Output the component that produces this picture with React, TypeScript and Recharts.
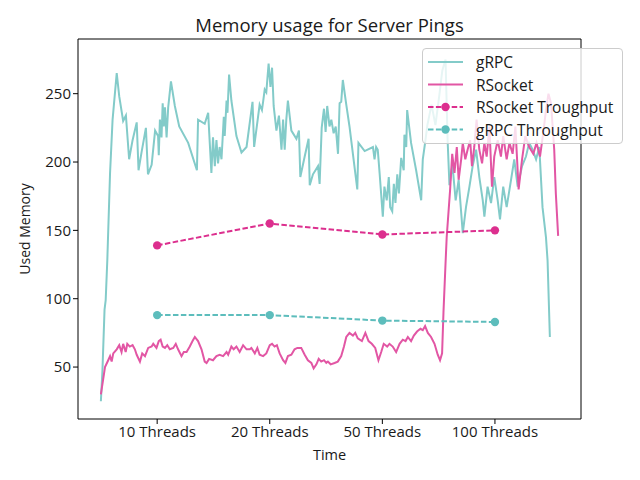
import React from 'react';
import { LineChart, Line, XAxis, YAxis, Legend, ReferenceLine } from 'recharts';

// ---- Data ----
const threadLabels = ['10 Threads', '20 Threads', '50 Threads', '100 Threads'];
const threadPositions = [24.5, 73.5, 122.5, 171.5];
const rsocketThroughput = [139, 155, 147, 150];
const grpcThroughput = [88, 88, 84, 83];
const yTicks = [50, 100, 150, 200, 250];

// [sample index, used memory]
const grpcSamples: [number, number][] = [
  [0, 25], [0.7, 48], [1.6, 92], [2.1, 99], [2.8, 128], [4.0, 192], [5.1, 231], [6.9, 265],
  [8.0, 248], [9.7, 230], [10.9, 234], [12.3, 202], [13.8, 216], [15.6, 229], [16.4, 194],
  [17.7, 207], [19.6, 225], [20.5, 191], [22.1, 198], [23.6, 223], [24.9, 219], [25.2, 205],
  [25.7, 231], [26.4, 218], [26.9, 243], [27.4, 226], [27.9, 240], [28.6, 218], [29.3, 240],
  [30.5, 259], [32.2, 241], [34.1, 226], [38.0, 214], [41.8, 194], [42.3, 231], [45.2, 228],
  [46.7, 236], [47.1, 223], [48.1, 192], [48.8, 218], [49.6, 197], [50.3, 216], [51.0, 199],
  [51.7, 211], [52.5, 202], [53.5, 233], [53.9, 219], [54.7, 245], [55.1, 236], [55.8, 264],
  [56.8, 245], [59.0, 219], [61.2, 207], [63.4, 211], [66.0, 244], [66.7, 211], [69.1, 242],
  [70.1, 238], [70.6, 244], [71.3, 253], [72.0, 251], [73.0, 272], [73.8, 255], [74.5, 269],
  [75.2, 241], [76.4, 223], [77.5, 234], [78.6, 209], [79.3, 231], [80.0, 209], [80.7, 231],
  [81.4, 245], [82.9, 223], [85.1, 217], [86.2, 223], [86.8, 189], [88.7, 204], [90.4, 217],
  [90.9, 183], [92.3, 191], [94.5, 197], [95.2, 184], [96.1, 225], [97.1, 239], [97.8, 222],
  [98.5, 241], [99.5, 226], [100.3, 231], [101.3, 221], [102.2, 226], [103.2, 206], [103.9, 243],
  [104.6, 244], [105.3, 260], [106.8, 242], [108.2, 226], [111.6, 180], [112.1, 214], [114.8, 208],
  [118.4, 211], [119.1, 202], [119.8, 211], [120.5, 209], [121.3, 192], [122.7, 160], [123.4, 182],
  [124.4, 172], [125.3, 189], [125.9, 167], [126.8, 164], [127.5, 184], [128.2, 170], [129.0, 191],
  [129.7, 177], [130.7, 203], [131.8, 194], [132.1, 220], [132.9, 211], [133.3, 238], [135.0, 214],
  [137.2, 194], [139.4, 172], [140.1, 202], [141.1, 214], [142.1, 227], [143.9, 242], [145.6, 227],
  [147.3, 249], [148.6, 267], [150.0, 275], [150.9, 216], [151.7, 183], [153.0, 198], [154.4, 172],
  [155.7, 187], [157.5, 148], [158.9, 167], [160.4, 182], [161.8, 197], [163.3, 209], [164.7, 189],
  [166.2, 172], [166.9, 160], [168.3, 182], [169.8, 170], [171.2, 189], [172.7, 172], [173.7, 158],
  [175.1, 182], [176.6, 167], [178.5, 187], [179.9, 202], [181.4, 182], [183.3, 197], [185.0, 204],
  [186.4, 214], [187.9, 209], [189.4, 202], [190.8, 211], [192.2, 167], [193.7, 145], [194.4, 128],
  [195.4, 72],
];

const rsocketSamples: [number, number][] = [
  [0, 30], [1.0, 41], [1.8, 50], [3.2, 55], [4.0, 58], [4.7, 54], [5.4, 60], [6.9, 63], [8.0, 66],
  [9.0, 61], [9.7, 67], [10.8, 61], [11.5, 67], [12.6, 65], [13.8, 66], [14.8, 63], [15.6, 59],
  [17.0, 54], [18.0, 60], [19.2, 58], [20.6, 64], [22.1, 65], [22.8, 67], [24.2, 64], [25.2, 69],
  [26.0, 70], [26.9, 65], [27.9, 64], [28.9, 66], [30.0, 63], [31.5, 64], [32.6, 67], [33.6, 63],
  [35.1, 58], [36.1, 61], [37.3, 61], [38.7, 65], [39.9, 69], [40.9, 72], [42.3, 69], [43.8, 63],
  [45.2, 54], [46.0, 53], [47.1, 56], [48.8, 55], [50.3, 58], [51.7, 59], [53.2, 58], [54.7, 61],
  [55.4, 59], [56.8, 65], [57.8, 63], [59.0, 65], [60.4, 61], [61.9, 66], [63.4, 63], [64.8, 63],
  [65.5, 64], [67.0, 60], [68.1, 64], [69.1, 59], [70.6, 58], [72.0, 60], [73.5, 66], [74.5, 67],
  [75.6, 65], [76.6, 66], [77.8, 60], [79.3, 55], [80.3, 53], [81.4, 58], [82.9, 59], [84.3, 63],
  [85.5, 64], [87.2, 64], [88.7, 59], [90.1, 55], [91.6, 53], [92.6, 49], [93.8, 52], [94.8, 56],
  [95.9, 54], [97.1, 55], [98.1, 53], [98.8, 54], [100.0, 52], [101.7, 53], [103.1, 54], [104.6, 58],
  [105.8, 65], [106.8, 72], [108.2, 75], [109.7, 73], [110.7, 75], [111.8, 71], [113.6, 69],
  [115.1, 75], [116.5, 69], [117.9, 67], [119.4, 64], [120.8, 55], [122.0, 61], [123.1, 67],
  [124.6, 65], [125.6, 67], [127.0, 65], [128.5, 61], [130.0, 67], [131.4, 70], [132.6, 69],
  [133.6, 72], [135.0, 69], [136.2, 73], [137.6, 76], [139.1, 78], [140.1, 77], [141.1, 80],
  [142.3, 75], [143.7, 72], [145.2, 67], [146.6, 59], [147.6, 55], [148.5, 60], [149.1, 90],
  [150.0, 126], [150.5, 145], [152.0, 180], [152.9, 206], [153.9, 192], [154.9, 211], [155.7, 187],
  [156.8, 202], [157.5, 214], [158.6, 202], [159.6, 209], [160.7, 216], [161.5, 197], [162.5, 211],
  [163.5, 231], [164.7, 209], [165.9, 199], [166.9, 214], [167.9, 204], [169.1, 226], [170.2, 182],
  [171.2, 204], [172.7, 216], [174.1, 204], [175.1, 219], [176.6, 202], [177.8, 214], [179.2, 206],
  [180.4, 226], [181.8, 180], [183.3, 202], [184.7, 219], [186.4, 211], [188.2, 206], [189.6, 214],
  [191.1, 204], [192.5, 221], [193.7, 238], [194.8, 250], [195.9, 243], [196.6, 226], [197.3, 209],
  [198.0, 177], [199.0, 146],
];

// ---- Styling ----
const GRPC_LINE = '#83cbc9';
const RSOCKET_LINE = '#e256a4';
const RSOCKET_TP = '#dc2f8e';
const GRPC_TP = '#5dbdbc';
const FONT = '"Open Sans", Lato, sans-serif';
const TEXT = '#1a1a1a';

const xMin = 0;
const xMax = 199;
const pad = (xMax - xMin) * 0.05;
const X_DOMAIN: [number, number] = [xMin - pad, xMax + pad];
const Y_DOMAIN: [number, number] = [12, 290];

const grpcData = grpcSamples.map(([x, y]) => ({ x, y }));
const rsocketData = rsocketSamples.map(([x, y]) => ({ x, y }));
const rsocketTpData = threadPositions.map((x, i) => ({ x, y: rsocketThroughput[i] }));
const grpcTpData = threadPositions.map((x, i) => ({ x, y: grpcThroughput[i] }));

const legendItems = [
  { name: 'gRPC', color: GRPC_LINE, dashed: false, marker: false },
  { name: 'RSocket', color: RSOCKET_LINE, dashed: false, marker: false },
  { name: 'RSocket Troughput', color: RSOCKET_TP, dashed: true, marker: true },
  { name: 'gRPC Throughput', color: GRPC_TP, dashed: true, marker: true },
];

function LegendBox() {
  const rowY = [14, 36.5, 59, 81.5];
  return (
    <div
      style={{
        width: 201,
        height: 96,
        boxSizing: 'border-box',
        border: '1px solid #cccccc',
        borderRadius: 4,
        background: 'rgba(255,255,255,0.8)',
        position: 'relative',
      }}
    >
      <svg width={201} height={96} style={{ position: 'absolute', left: -1, top: -1 }}>
        {legendItems.map((it, i) => (
          <g key={it.name}>
            <line
              x1={6}
              x2={41}
              y1={rowY[i]}
              y2={rowY[i]}
              stroke={it.color}
              strokeWidth={2}
              strokeDasharray={it.dashed ? '5.5 2.4' : undefined}
            />
            {it.marker && <circle cx={23.5} cy={rowY[i]} r={4.2} fill={it.color} />}
            <text
              x={54}
              y={rowY[i]}
              dominantBaseline="central"
              fontSize={15.5}
              fontFamily={FONT}
              fill={TEXT}
            >
              {it.name}
            </text>
          </g>
        ))}
      </svg>
    </div>
  );
}

export default function App() {
  return (
    <div style={{ position: 'absolute', left: 0, top: 0, width: 640, height: 480, background: '#fff' }}>
      <svg
        width={640}
        height={40}
        style={{ position: 'absolute', left: 0, top: 0, zIndex: 1, pointerEvents: 'none' }}
      >
        <text
          x={329.5}
          y={24}
          textAnchor="middle"
          dominantBaseline="central"
          fontSize={18.5}
          fontFamily={FONT}
          fill={TEXT}
        >
          Memory usage for Server Pings
        </text>
      </svg>
      <LineChart
        width={640}
        height={480}
        margin={{ top: 39, right: 59, bottom: 0, left: 0 }}
        style={{ fontFamily: FONT }}
      >
        <XAxis
          type="number"
          dataKey="x"
          domain={X_DOMAIN}
          ticks={threadPositions}
          tickFormatter={(v: number) => threadLabels[threadPositions.indexOf(v)] ?? ''}
          height={61}
          tickSize={5}
          tick={{ fontSize: 15, fill: TEXT, fontFamily: FONT }}
          axisLine={{ stroke: '#000', strokeWidth: 1 }}
          tickLine={{ stroke: '#000' }}
          allowDataOverflow
          interval={0}
          label={{
            content: (p: any) => {
              const vb = p.viewBox || {};
              return (
                <text
                  x={vb.x + vb.width / 2}
                  y={454}
                  textAnchor="middle"
                  dominantBaseline="central"
                  fontSize={14.5}
                  fontFamily={FONT}
                  fill={TEXT}
                >
                  Time
                </text>
              );
            },
          }}
        />
        <YAxis
          type="number"
          domain={Y_DOMAIN}
          ticks={yTicks}
          width={78}
          tickSize={5}
          tick={{ fontSize: 15, fill: TEXT, fontFamily: FONT }}
          axisLine={{ stroke: '#000', strokeWidth: 1 }}
          tickLine={{ stroke: '#000' }}
          allowDataOverflow
          interval={0}
          label={{
            content: (p: any) => {
              const vb = p.viewBox || {};
              const cy = vb.y + vb.height / 2;
              return (
                <text
                  x={24}
                  y={cy}
                  transform={`rotate(-90 24 ${cy})`}
                  textAnchor="middle"
                  dominantBaseline="central"
                  fontSize={14}
                  fontFamily={FONT}
                  fill={TEXT}
                >
                  Used Memory
                </text>
              );
            },
          }}
        />
        <ReferenceLine y={Y_DOMAIN[1]} stroke="#000" strokeWidth={1} ifOverflow="visible" />
        <ReferenceLine x={X_DOMAIN[1]} stroke="#000" strokeWidth={1} ifOverflow="visible" />
        <Line
          data={grpcData}
          dataKey="y"
          name="gRPC"
          type="linear"
          stroke={GRPC_LINE}
          strokeWidth={2}
          dot={false}
          activeDot={false}
          isAnimationActive={false}
        />
        <Line
          data={rsocketData}
          dataKey="y"
          name="RSocket"
          type="linear"
          stroke={RSOCKET_LINE}
          strokeWidth={2}
          dot={false}
          activeDot={false}
          isAnimationActive={false}
        />
        <Line
          data={rsocketTpData}
          dataKey="y"
          name="RSocket Troughput"
          type="linear"
          stroke={RSOCKET_TP}
          strokeWidth={2}
          strokeDasharray="5.5 2.4"
          dot={{ r: 4.2, fill: RSOCKET_TP, stroke: RSOCKET_TP, strokeWidth: 0, strokeDasharray: '' }}
          activeDot={false}
          isAnimationActive={false}
        />
        <Line
          data={grpcTpData}
          dataKey="y"
          name="gRPC Throughput"
          type="linear"
          stroke={GRPC_TP}
          strokeWidth={2}
          strokeDasharray="5.5 2.4"
          dot={{ r: 4.2, fill: GRPC_TP, stroke: GRPC_TP, strokeWidth: 0, strokeDasharray: '' }}
          activeDot={false}
          isAnimationActive={false}
        />
        <Legend
          layout="vertical"
          align="center"
          verticalAlign="middle"
          wrapperStyle={{ left: 422, top: 48, width: 201, height: 96 }}
          content={() => <LegendBox />}
        />
      </LineChart>
    </div>
  );
}
